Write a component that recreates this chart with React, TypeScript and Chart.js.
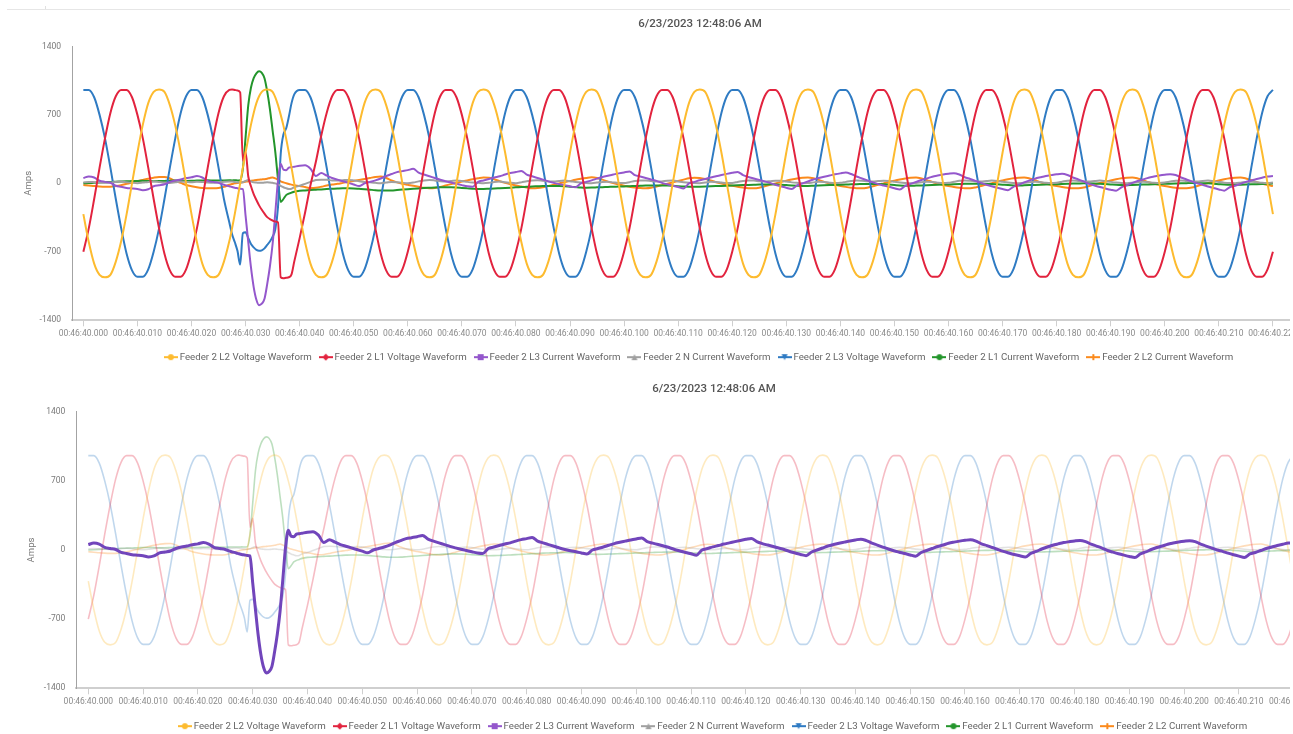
import { useEffect, useRef } from 'react';
import { Chart, registerables } from 'chart.js';

Chart.register(...registerables);

// ---- labels -------------------------------------------------------------
const chartTitle = '6/23/2023 12:48:06 AM';
const yAxisTitle = 'Amps';
const yTicks = [-1400, -700, 0, 700, 1400];
const yTickLabels = ['-1400', '-700', '0', '700', '1400'];
const tickMs = [0, 10, 20, 30, 40, 50, 60, 70, 80, 90, 100, 110, 120, 130, 140, 150, 160, 170, 180, 190, 200, 210, 220];
const tickLabels = [
  '00:46:40.000', '00:46:40.010', '00:46:40.020', '00:46:40.030', '00:46:40.040', '00:46:40.050',
  '00:46:40.060', '00:46:40.070', '00:46:40.080', '00:46:40.090', '00:46:40.100', '00:46:40.110',
  '00:46:40.120', '00:46:40.130', '00:46:40.140', '00:46:40.150', '00:46:40.160', '00:46:40.170',
  '00:46:40.180', '00:46:40.190', '00:46:40.200', '00:46:40.210', '00:46:40.220',
];

// ---- sample times (ms after 00:46:40.000) --------------------------------
const timeMs = [
  0, 1, 2, 3, 4, 5, 6, 7, 8, 9, 10, 11, 12, 13, 14, 15, 16, 17, 18, 19, 20, 21, 22, 23, 24, 25, 26, 27,
  27.5, 28, 28.5, 29, 29.5, 30, 30.5, 31, 31.5, 32, 32.5, 33, 33.5, 34, 34.5, 35, 35.5, 36, 36.5, 37, 37.5, 38, 38.5, 39,
  40, 41, 42, 43, 44, 45, 46, 47, 48, 49, 50, 51, 52, 53, 54, 55, 56, 57, 58, 59,
  60, 61, 62, 63, 64, 65, 66, 67, 68, 69, 70, 71, 72, 73, 74, 75, 76, 77, 78, 79,
  80, 81, 82, 83, 84, 85, 86, 87, 88, 89, 90, 91, 92, 93, 94, 95, 96, 97, 98, 99,
  100, 101, 102, 103, 104, 105, 106, 107, 108, 109, 110, 111, 112, 113, 114, 115, 116, 117, 118, 119,
  120, 121, 122, 123, 124, 125, 126, 127, 128, 129, 130, 131, 132, 133, 134, 135, 136, 137, 138, 139,
  140, 141, 142, 143, 144, 145, 146, 147, 148, 149, 150, 151, 152, 153, 154, 155, 156, 157, 158, 159,
  160, 161, 162, 163, 164, 165, 166, 167, 168, 169, 170, 171, 172, 173, 174, 175, 176, 177, 178, 179,
  180, 181, 182, 183, 184, 185, 186, 187, 188, 189, 190, 191, 192, 193, 194, 195, 196, 197, 198, 199,
  200, 201, 202, 203, 204, 205, 206, 207, 208, 209, 210, 211, 212, 213, 214, 215, 216, 217, 218, 219,
  220,
];

// ---- series values (A) ----------------------------------------------------
const l2Voltage = [
  -315, -600, -820, -935, -960, -935, -800, -590, -315, 0, 315, 600, 820, 935, 960, 935, 800, 590, 315, 0,
  -315, -600, -820, -935, -960, -935, -800, -590,
  -460, -315, -160, 0, 160, 315, 460, 600, 720, 820, 890, 935, 955, 960, 955, 935, 880, 800, 700, 590, 460, 315, 160, 0,
  -315, -600, -820, -935, -960, -935, -800, -590, -315, 0, 315, 600, 820, 935, 960, 935, 800, 590, 315, 0,
  -315, -600, -820, -935, -960, -935, -800, -590, -315, 0, 315, 600, 820, 935, 960, 935, 800, 590, 315, 0,
  -315, -600, -820, -935, -960, -935, -800, -590, -315, 0, 315, 600, 820, 935, 960, 935, 800, 590, 315, 0,
  -315, -600, -820, -935, -960, -935, -800, -590, -315, 0, 315, 600, 820, 935, 960, 935, 800, 590, 315, 0,
  -315, -600, -820, -935, -960, -935, -800, -590, -315, 0, 315, 600, 820, 935, 960, 935, 800, 590, 315, 0,
  -315, -600, -820, -935, -960, -935, -800, -590, -315, 0, 315, 600, 820, 935, 960, 935, 800, 590, 315, 0,
  -315, -600, -820, -935, -960, -935, -800, -590, -315, 0, 315, 600, 820, 935, 960, 935, 800, 590, 315, 0,
  -315, -600, -820, -935, -960, -935, -800, -590, -315, 0, 315, 600, 820, 935, 960, 935, 800, 590, 315, 0,
  -315, -600, -820, -935, -960, -935, -800, -590, -315, 0, 315, 600, 820, 935, 960, 935, 800, 590, 315, 0,
  -315,
];

const l1Voltage = [
  -700, -460, -160, 160, 460, 720, 890, 955, 955, 880, 700, 460, 160, -160, -460, -720, -890, -955, -955, -880,
  -700, -460, -160, 160, 460, 720, 890, 955,
  960, 955, 950, 930, 230, 320, 70, -30, -110, -170, -225, -270, -310, -345, -365, -380, -390, -400, -960, -970, -965, -960, -930, -800,
  -560, -300, -20, 220, 490, 720, 890, 955, 955, 880, 700, 460, 160, -160, -460, -720, -890, -955, -955, -880,
  -700, -460, -160, 160, 460, 720, 890, 955, 955, 880, 700, 460, 160, -160, -460, -720, -890, -955, -955, -880,
  -700, -460, -160, 160, 460, 720, 890, 955, 955, 880, 700, 460, 160, -160, -460, -720, -890, -955, -955, -880,
  -700, -460, -160, 160, 460, 720, 890, 955, 955, 880, 700, 460, 160, -160, -460, -720, -890, -955, -955, -880,
  -700, -460, -160, 160, 460, 720, 890, 955, 955, 880, 700, 460, 160, -160, -460, -720, -890, -955, -955, -880,
  -700, -460, -160, 160, 460, 720, 890, 955, 955, 880, 700, 460, 160, -160, -460, -720, -890, -955, -955, -880,
  -700, -460, -160, 160, 460, 720, 890, 955, 955, 880, 700, 460, 160, -160, -460, -720, -890, -955, -955, -880,
  -700, -460, -160, 160, 460, 720, 890, 955, 955, 880, 700, 460, 160, -160, -460, -720, -890, -955, -955, -880,
  -700, -460, -160, 160, 460, 720, 890, 955, 955, 880, 700, 460, 160, -160, -460, -720, -890, -955, -955, -880,
  -700,
];

const l3Current = [
  54, 70, 60, 27, 15, 5, -24, -35, -48, -52, -58, -70, -60, -30, -20, -10, 15, 30, 40, 54,
  62, 75, 60, 25, 15, 5, -15, -30,
  -38, -45, -50, -55, -60, -330, -600, -860, -1060, -1190, -1245, -1230, -1180, -1030, -850, -620, -300, 30, 200, 140, 135, 160, 165, 170,
  180, 185, 150, 75, 105, 80, 55, 38, 22, 5, -12, -28, 0, 15, 30, 50, 75, 95, 115, 125,
  135, 148, 110, 90, 72, 55, 37, 22, 8, -5, -18, -30, -35, 15, 30, 45, 60, 72, 90, 105,
  115, 127, 90, 72, 55, 38, 20, 5, -8, -18, -30, -40, 0, 15, 30, 48, 65, 78, 90, 102,
  112, 121, 85, 70, 55, 40, 25, 5, -10, -25, -38, -52, 0, 15, 32, 45, 60, 72, 85, 97,
  108, 117, 85, 65, 50, 35, 20, 5, -15, -30, -45, -57, -20, 0, 20, 40, 55, 68, 80, 92,
  102, 110, 95, 70, 50, 30, 10, -8, -22, -35, -50, -63, -25, -5, 15, 35, 50, 68, 80, 90,
  98, 104, 90, 62, 45, 25, 5, -14, -30, -45, -58, -70, -35, -15, 10, 30, 48, 62, 75, 84,
  92, 97, 85, 60, 40, 20, -5, -22, -38, -52, -65, -75, -40, -20, 5, 25, 40, 58, 70, 80,
  88, 94, 85, 60, 40, 20, 0, -14, -32, -48, -62, -75, -40, -25, -5, 15, 30, 45, 58, 70,
  75,
];

const nCurrent = [
  10, 15, 12, 8, 5, 8, 14, 18, 12, 6, 2, 8, 15, 20, 14, 8, 4, 10, 18, 15,
  12, 16, 14, 8, 5, 10, 16, 20,
  18, 14, 10, 8, 12, 25, 35, 20, 10, 8, 5, 5, 8, 10, 8, 5, 0, -10, -25, -40, -50, -58, -55, -40,
  -25, -5, 15, 35, 38, 36, 30, 28, 32, 35, 30, 22, 15, 10, 5, 2, 8, 15, 12, 6,
  2, 8, 20, 30, 35, 30, 22, 18, 24, 30, 25, 15, 8, 5, 2, 6, 14, 18, 12, 5,
  2, 10, 22, 30, 32, 26, 20, 18, 25, 28, 22, 14, 8, 4, 2, 8, 15, 16, 10, 4,
  3, 12, 24, 30, 30, 24, 18, 20, 26, 28, 20, 12, 6, 3, 2, 9, 16, 15, 8, 3,
  4, 14, 25, 30, 28, 22, 18, 22, 27, 26, 18, 10, 5, 2, 3, 10, 16, 14, 7, 3,
  5, 15, 25, 30, 27, 21, 18, 23, 27, 25, 17, 9, 4, 2, 4, 11, 17, 14, 7, 3,
  6, 16, 26, 30, 26, 20, 18, 24, 28, 24, 16, 8, 4, 2, 5, 12, 17, 13, 6, 3,
  7, 17, 27, 30, 25, 19, 18, 24, 28, 23, 15, 8, 3, 2, 6, 13, 17, 12, 6, 3,
  8, 18, 27, 30, 24, 18, 18, 25, 28, 22, 14, 7, 3, 2, 7, 14, 17, 12, 5, 3,
  9,
];

const l3Voltage = [
  955, 955, 880, 700, 460, 160, -160, -460, -720, -890, -955, -955, -880, -700, -460, -160, 160, 460, 720, 890,
  955, 955, 880, 700, 460, 160, -160, -400,
  -520, -600, -690, -830, -510, -500, -560, -620, -655, -680, -690, -685, -665, -630, -595, -545, -470, -240, 300, 500, 560, 680, 820, 910,
  955, 955, 880, 700, 460, 160, -160, -460, -720, -890, -955, -955, -880, -700, -460, -160, 160, 460, 720, 890,
  955, 955, 880, 700, 460, 160, -160, -460, -720, -890, -955, -955, -880, -700, -460, -160, 160, 460, 720, 890,
  955, 955, 880, 700, 460, 160, -160, -460, -720, -890, -955, -955, -880, -700, -460, -160, 160, 460, 720, 890,
  955, 955, 880, 700, 460, 160, -160, -460, -720, -890, -955, -955, -880, -700, -460, -160, 160, 460, 720, 890,
  955, 955, 880, 700, 460, 160, -160, -460, -720, -890, -955, -955, -880, -700, -460, -160, 160, 460, 720, 890,
  955, 955, 880, 700, 460, 160, -160, -460, -720, -890, -955, -955, -880, -700, -460, -160, 160, 460, 720, 890,
  955, 955, 880, 700, 460, 160, -160, -460, -720, -890, -955, -955, -880, -700, -460, -160, 160, 460, 720, 890,
  955, 955, 880, 700, 460, 160, -160, -460, -720, -890, -955, -955, -880, -700, -460, -160, 160, 460, 720, 890,
  955, 955, 880, 700, 460, 160, -160, -460, -720, -890, -955, -955, -880, -700, -460, -160, 160, 460, 720, 890,
  955,
];

const l1Current = [
  0, 3, 6, 9, 12, 14, 17, 19, 21, 23, 25, 26, 24, 22, 23, 25, 27, 28, 26, 25,
  26, 28, 29, 31, 29, 28, 30, 31,
  30, 32, 30, 32, 150, 470, 800, 980, 1075, 1125, 1145, 1130, 1075, 940, 760, 540, 320, 40, -190, -160, -120, -105, -95, -85,
  -75, -72, -68, -65, -62, -58, -55, -52, -50, -50, -52, -56, -60, -65, -70, -73, -74, -72, -68, -64,
  -60, -56, -52, -48, -45, -42, -40, -39, -40, -43, -47, -51, -55, -58, -57, -55, -53, -50, -47, -44,
  -41, -38, -35, -32, -30, -28, -27, -26, -27, -30, -34, -38, -42, -44, -43, -41, -39, -37, -35, -33,
  -31, -29, -27, -25, -23, -22, -21, -21, -22, -25, -29, -32, -35, -36, -34, -32, -30, -28, -26, -24,
  -22, -20, -18, -16, -14, -12, -11, -10, -11, -14, -18, -22, -25, -27, -26, -24, -22, -20, -18, -16,
  -14, -12, -10, -8, -7, -6, -6, -7, -9, -13, -17, -21, -24, -25, -23, -21, -19, -17, -15, -13,
  -11, -9, -7, -5, -4, -3, -3, -4, -6, -10, -14, -18, -21, -22, -20, -18, -16, -14, -12, -10,
  -8, -6, -4, -2, -1, 0, 0, -1, -3, -7, -11, -15, -18, -19, -17, -15, -13, -11, -9, -7,
  -5, -3, -1, 1, 2, 3, 3, 2, 0, -4, -8, -12, -15, -16, -14, -12, -10, -8, -6, -4,
  -2,
];

const l2Current = [
  -17, -22, -28, -32, -34, -34, -28, -18, -5, 8, 22, 35, 48, 58, 65, 66, 50, 25, 5, -17,
  -30, -40, -47, -50, -51, -48, -35, -15,
  -7, 0, 4, 7, 12, 17, 22, 26, 30, 34, 37, 40, 43, 48, 55, 60, 50, 35, 20, 10, 2, -6, -13, -20,
  -27, -38, -48, -45, -35, -22, -12, -5, 5, 15, 25, 35, 45, 55, 65, 70, 55, 30, 10, -5,
  -15, -25, -35, -45, -50, -48, -38, -22, -8, 5, 18, 30, 42, 52, 60, 58, 42, 22, 5, -10,
  -22, -32, -42, -50, -48, -40, -28, -14, 0, 12, 24, 36, 46, 55, 62, 55, 38, 18, 2, -12,
  -24, -34, -42, -48, -50, -45, -32, -18, -4, 10, 24, 38, 52, 58, 55, 45, 30, 12, -2, -14,
  -25, -35, -43, -49, -50, -44, -30, -15, 0, 14, 27, 40, 50, 57, 60, 52, 35, 15, -2, -15,
  -26, -36, -44, -50, -51, -44, -30, -14, 0, 14, 28, 40, 50, 57, 60, 50, 33, 14, -3, -16,
  -27, -37, -45, -50, -50, -42, -28, -12, 2, 16, 30, 42, 52, 58, 60, 50, 32, 12, -4, -17,
  -28, -38, -46, -51, -50, -42, -27, -11, 3, 17, 30, 42, 52, 58, 60, 50, 32, 12, -4, -17,
  -28, -38, -46, -51, -50, -42, -27, -11, 3, 17, 30, 42, 52, 58, 60, 50, 32, 12, -4, -17,
  -28,
];

// ---- series metadata -----------------------------------------------------
const seriesNames = [
  'Feeder 2 L2 Voltage Waveform',
  'Feeder 2 L1 Voltage Waveform',
  'Feeder 2 L3 Current Waveform',
  'Feeder 2 N Current Waveform',
  'Feeder 2 L3 Voltage Waveform',
  'Feeder 2 L1 Current Waveform',
  'Feeder 2 L2 Current Waveform',
];
const seriesValues = [l2Voltage, l1Voltage, l3Current, nCurrent, l3Voltage, l1Current, l2Current];
const seriesColors = ['#fdbb2f', '#e2233e', '#9457cc', '#a0a0a0', '#2f7bc3', '#23952b', '#fb8a1c'];
const markerShapes = ['circle', 'diamond', 'square', 'triangle', 'triangleDown', 'circle', 'cross'];
const focusColor = '#7145bb';

const FONT = 'Roboto, "Open Sans", sans-serif';

function withAlpha(hex: string, a: number): string {
  const n = parseInt(hex.slice(1), 16);
  return `rgba(${(n >> 16) & 255}, ${(n >> 8) & 255}, ${n & 255}, ${a})`;
}

// Legend swatch: a short line with the series marker in the middle.
function makeMarker(color: string, shape: string): HTMLCanvasElement {
  const c = document.createElement('canvas');
  c.width = 14;
  c.height = 8;
  const ctx = c.getContext('2d')!;
  ctx.strokeStyle = color;
  ctx.fillStyle = color;
  ctx.lineWidth = 2;
  ctx.beginPath();
  ctx.moveTo(0, 4);
  ctx.lineTo(14, 4);
  ctx.stroke();
  const cx = 7;
  const cy = 4;
  const r = 3;
  ctx.beginPath();
  switch (shape) {
    case 'circle':
      ctx.arc(cx, cy, r, 0, Math.PI * 2);
      break;
    case 'square':
      ctx.rect(cx - r, cy - r, r * 2, r * 2);
      break;
    case 'diamond':
      ctx.moveTo(cx, cy - r - 0.5);
      ctx.lineTo(cx + r + 0.5, cy);
      ctx.lineTo(cx, cy + r + 0.5);
      ctx.lineTo(cx - r - 0.5, cy);
      ctx.closePath();
      break;
    case 'triangle':
      ctx.moveTo(cx, cy - r);
      ctx.lineTo(cx + r, cy + r);
      ctx.lineTo(cx - r, cy + r);
      ctx.closePath();
      break;
    case 'triangleDown':
      ctx.moveTo(cx - r, cy - r);
      ctx.lineTo(cx + r, cy - r);
      ctx.lineTo(cx, cy + r);
      ctx.closePath();
      break;
    default:
      ctx.rect(cx - 1, cy - r, 2, r * 2);
      ctx.rect(cx - r, cy - 1, r * 2, 2);
  }
  ctx.fill();
  return c;
}

interface PanelSpec {
  width: number;
  height: number;
  focus: number | null;
  xMin: number;
  xMax: number;
  yAxisWidth: number;
  yTitlePad: number;
  titlePadTop: number;
  titlePadBottom: number;
  xAxisHeight: number;
}

function buildChart(canvas: HTMLCanvasElement, spec: PanelSpec): Chart {
  const markers = seriesColors.map((c, i) => makeMarker(c, markerShapes[i]));
  const datasets = seriesNames.map((name, i) => {
    const faded = spec.focus !== null && spec.focus !== i;
    const focused = spec.focus === i;
    return {
      label: name,
      data: timeMs.map((t, k) => ({ x: t, y: seriesValues[i][k] })),
      borderColor: focused ? focusColor : faded ? withAlpha(seriesColors[i], 0.3) : seriesColors[i],
      backgroundColor: seriesColors[i],
      borderWidth: focused ? 3 : faded ? 1.6 : 2,
      pointRadius: 0,
      cubicInterpolationMode: 'monotone',
      fill: false,
      order: focused ? -1 : 0,
    };
  });

  return new Chart(canvas, {
    type: 'line',
    data: { datasets },
    options: {
      animation: false,
      responsive: false,
      events: [],
      layout: { padding: 0 },
      plugins: {
        tooltip: { enabled: false },
        title: {
          display: true,
          text: chartTitle,
          color: '#555555',
          font: { family: FONT, size: 11.5, weight: '500' },
          padding: { top: spec.titlePadTop, bottom: spec.titlePadBottom },
        },
        legend: {
          display: true,
          position: 'bottom',
          labels: {
            usePointStyle: true,
            pointStyleWidth: 8,
            boxHeight: 8,
            padding: 10,
            color: '#666666',
            font: { family: FONT, size: 9.7 },
            generateLabels: () =>
              seriesNames.map((name, i) => ({
                text: name,
                fillStyle: seriesColors[i],
                strokeStyle: seriesColors[i],
                lineWidth: 0,
                pointStyle: markers[i],
                hidden: false,
                datasetIndex: i,
                fontColor: '#666666',
              })),
          },
        },
      },
      scales: {
        x: {
          type: 'linear',
          min: spec.xMin,
          max: spec.xMax,
          afterBuildTicks: (scale: any) => {
            scale.ticks = tickMs.map((v) => ({ value: v }));
          },
          afterFit: (scale: any) => {
            scale.height = spec.xAxisHeight;
            scale.paddingLeft = 0;
            scale.paddingRight = 0;
          },
          ticks: {
            autoSkip: false,
            maxRotation: 0,
            minRotation: 0,
            padding: 2,
            color: '#8a8a8a',
            font: { family: FONT, size: 8.5 },
            callback: (_v: any, i: number) => tickLabels[i],
          },
          grid: { display: true, drawOnChartArea: false, drawTicks: true, tickLength: 6, color: '#cfcfcf' },
          border: { display: true, color: '#cfcfcf', width: 2 },
        },
        y: {
          type: 'linear',
          min: -1400,
          max: 1400,
          afterBuildTicks: (scale: any) => {
            scale.ticks = yTicks.map((v) => ({ value: v }));
          },
          afterFit: (scale: any) => {
            scale.width = spec.yAxisWidth;
          },
          ticks: {
            padding: 3,
            color: '#7a7a7a',
            font: { family: FONT, size: 8.5 },
            callback: (_v: any, i: number) => yTickLabels[i],
          },
          grid: { display: false },
          border: { display: true, color: '#a3a3a3', width: 1 },
          title: {
            display: true,
            text: yAxisTitle,
            color: '#777777',
            font: { family: FONT, size: 9.5 },
            padding: { top: spec.yTitlePad, bottom: 0 },
          },
        },
      },
    } as any,
  });
}

function WaveformPanel({ spec, top }: { spec: PanelSpec; top: number }) {
  const ref = useRef<HTMLCanvasElement | null>(null);
  useEffect(() => {
    if (!ref.current) return;
    const chart = buildChart(ref.current, spec);
    return () => chart.destroy();
  }, [spec]);
  return (
    <canvas
      ref={ref}
      width={spec.width}
      height={spec.height}
      style={{ position: 'absolute', left: 0, top, width: spec.width, height: spec.height }}
    />
  );
}

// The canvases are wider than the visible strip; the outer box clips them.
const topPanel: PanelSpec = {
  width: 1400,
  height: 362,
  focus: null,
  xMin: -2.1,
  xMax: 243.5,
  yAxisWidth: 72,
  yTitlePad: 23,
  titlePadTop: 7,
  titlePadBottom: 15.6,
  xAxisHeight: 22,
};

const bottomPanel: PanelSpec = {
  width: 1428,
  height: 369,
  focus: 2,
  xMin: -2.19,
  xMax: 244.5,
  yAxisWidth: 76.3,
  yTitlePad: 26,
  titlePadTop: 9.8,
  titlePadBottom: 16.1,
  xAxisHeight: 23,
};

export default function App() {
  return (
    <div
      style={{
        position: 'absolute',
        left: 0,
        top: 0,
        width: 1290,
        height: 734,
        overflow: 'hidden',
        background: '#ffffff',
      }}
    >
      <div style={{ position: 'absolute', left: 7, top: 9, width: 1283, height: 1, background: '#e6e6e6' }} />
      <div style={{ position: 'absolute', left: 45, top: 6, width: 1, height: 3, background: '#e0e0e0' }} />
      <WaveformPanel spec={topPanel} top={10} />
      <WaveformPanel spec={bottomPanel} top={372} />
    </div>
  );
}
